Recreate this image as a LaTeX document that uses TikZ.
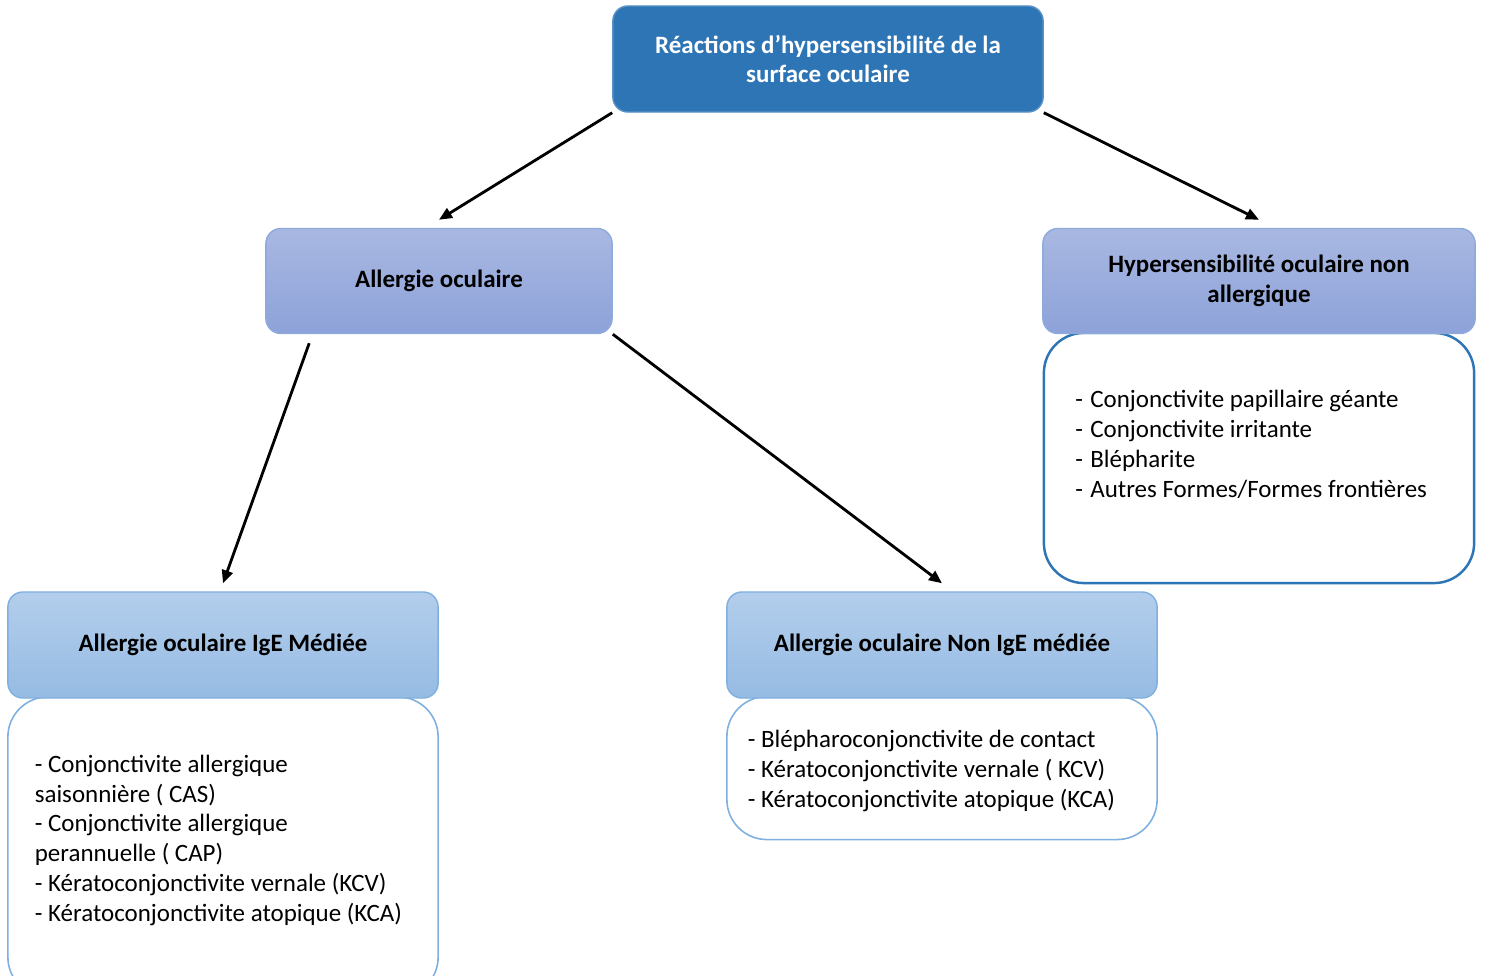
\documentclass[tikz,border=0pt]{standalone}
\usepackage{fontspec}
\setmainfont{Carlito}
\usetikzlibrary{arrows.meta}
\definecolor{topblue}{HTML}{2E75B6}
\definecolor{lavtop}{HTML}{A9B8E2}
\definecolor{lavbot}{HTML}{8DA2D9}
\definecolor{lavline}{HTML}{8EAADB}
\definecolor{skytop}{HTML}{B3CEEC}
\definecolor{skybot}{HTML}{96BBE3}
\definecolor{skyline}{HTML}{7FB0E0}

\begin{document}
\begin{tikzpicture}[x=0.01cm, y=-0.01cm,
    topbox/.style={draw=topblue!80!white, fill=topblue, rounded corners=0.15cm,
        minimum width=4.3cm, minimum height=1.06cm, align=center, text=white,
        font=\fontsize{7.1}{8.5}\selectfont\bfseries},
    lavbox/.style={draw=lavline, top color=lavtop, bottom color=lavbot, rounded corners=0.15cm,
        minimum height=1.05cm, align=center, font=\fontsize{7.1}{8.5}\selectfont\bfseries},
    skybox/.style={draw=skyline, top color=skytop, bottom color=skybot, rounded corners=0.15cm,
        minimum width=4.3cm, minimum height=1.06cm, align=center, font=\fontsize{7.1}{8.5}\selectfont\bfseries},
    listbox/.style={draw=skyline, fill=white, line width=0.45pt, rounded corners=0.4cm, minimum width=4.3cm},
    listtext/.style={anchor=north west, align=left, inner sep=0pt, font=\fontsize{7.1}{8.5}\selectfont},
    arr/.style={-{Triangle[length=0.13cm, width=0.11cm]}, line width=0.8pt}]
    \useasboundingbox (0,0) rectangle (1485,976);

    % Top of the tree
    \node[topbox] (reactions) at (828,59) {Réactions d’hypersensibilité de la\\surface oculaire};

    % Second level
    \node[lavbox, minimum width=3.46cm] (allergie) at (439,281) {Allergie oculaire};
    \node[listbox, draw=topblue, line width=0.7pt, minimum height=2.5cm] (hyperlist) at (1259,458) {};
    \node[lavbox, minimum width=4.32cm] (hyper) at (1259,281) {Hypersensibilité oculaire non\\allergique};
    \node[listtext] at ([xshift=0.32cm, yshift=-0.58cm]hyperlist.north west)
        {\makebox[0.15cm][l]{-}Conjonctivite papillaire géante\\
         \makebox[0.15cm][l]{-}Conjonctivite irritante\\
         \makebox[0.15cm][l]{-}Blépharite\\
         \makebox[0.15cm][l]{-}Autres Formes/Formes frontières};

    % Third level
    \node[listbox, minimum height=3.0cm] (igelist) at (223,847) {};
    \node[skybox] (ige) at (223,645) {Allergie oculaire IgE Médiée};
    \node[listtext] at ([xshift=0.27cm, yshift=-0.58cm]igelist.north west)
        {- Conjonctivite allergique\\
         saisonnière ( CAS)\\
         - Conjonctivite allergique\\
         perannuelle ( CAP)\\
         - Kératoconjonctivite vernale (KCV)\\
         - Kératoconjonctivite atopique (KCA)};

    \node[listbox, minimum height=1.43cm] (nonigelist) at (942,768) {};
    \node[skybox] (nonige) at (942,645) {Allergie oculaire Non IgE médiée};
    \node[listtext] at ([xshift=0.21cm, yshift=-0.34cm]nonigelist.north west)
        {- Blépharoconjonctivite de contact\\
         - Kératoconjonctivite vernale ( KCV)\\
         - Kératoconjonctivite atopique (KCA)};

    % Arrows
    \draw[arr] (reactions.south west) -- ([yshift=0.08cm]allergie.north);
    \draw[arr] (reactions.south east) -- ([yshift=0.08cm]hyper.north);
    \draw[arr] ([xshift=0.44cm, yshift=-0.09cm]allergie.south west) -- ([yshift=0.08cm]ige.north);
    \draw[arr] (allergie.south east) -- ([yshift=0.08cm]nonige.north);
\end{tikzpicture}
\end{document}
